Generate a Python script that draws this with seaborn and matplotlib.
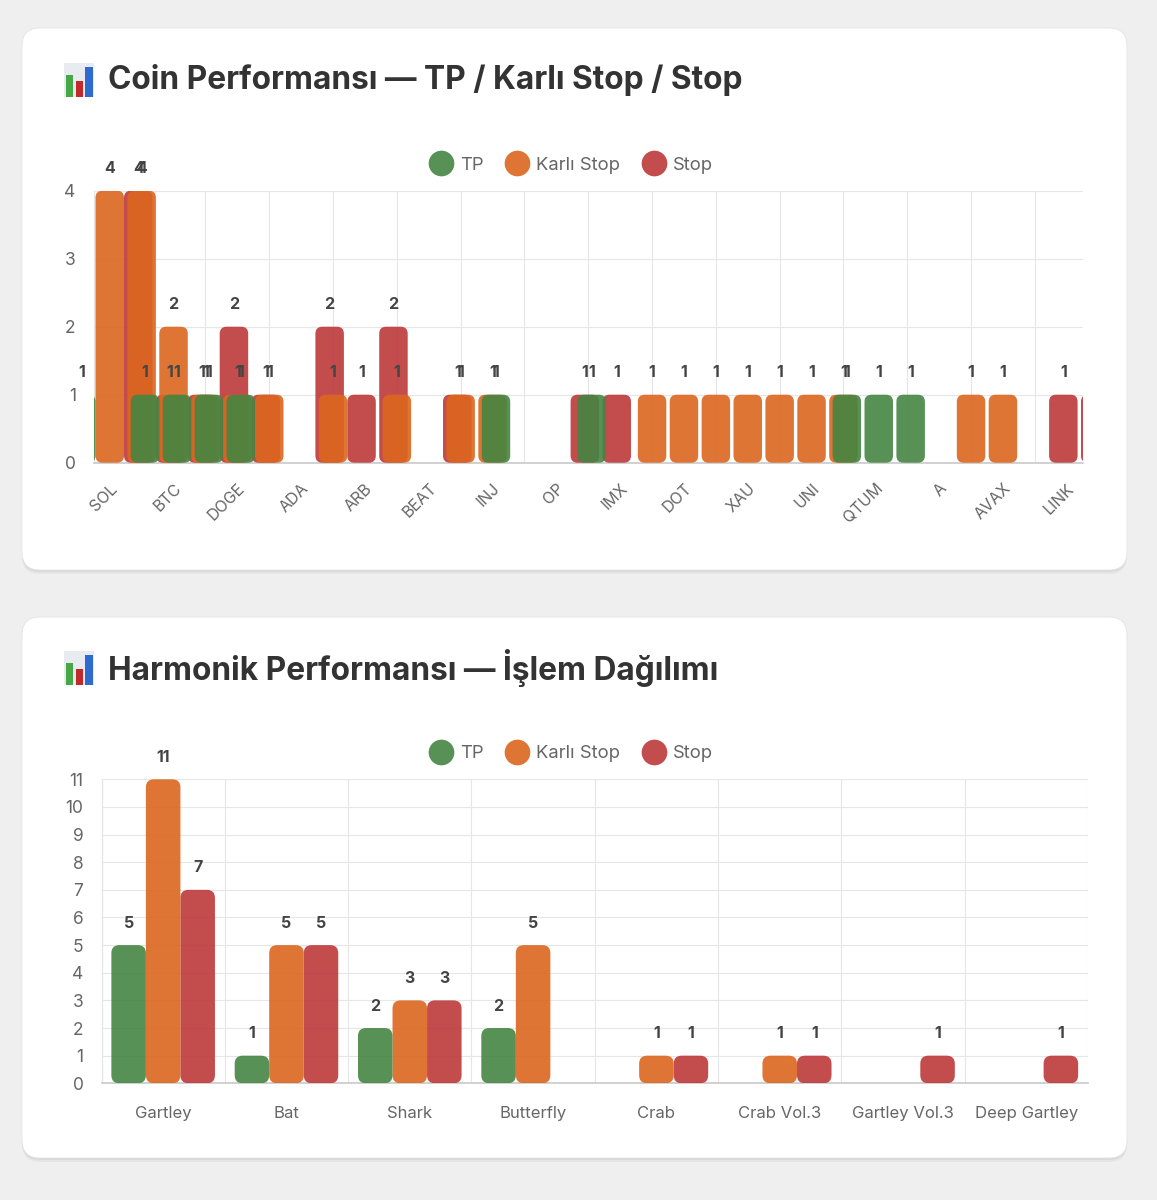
import numpy as np
import pandas as pd
import matplotlib
matplotlib.use("Agg")
import matplotlib.pyplot as plt
import seaborn as sns
from matplotlib.patches import FancyBboxPatch, Rectangle
from matplotlib.lines import Line2D
from matplotlib.colors import to_rgb
from matplotlib.ticker import MultipleLocator
from matplotlib.transforms import IdentityTransform

# ============================================================================
# DATA
# ============================================================================
RESULTS = ["TP", "Karlı Stop", "Stop"]
COLORS = {"TP": "#458542", "Karlı Stop": "#dc661f", "Stop": "#bd383a"}

# coin chart: 31 slots on the axis, only every other name gets printed
coin_names = ["SOL", "BTC", "DOGE", "ADA", "ARB", "BEAT", "INJ", "OP",
              "IMX", "DOT", "XAU", "UNI", "QTUM", "A", "AVAX", "LINK"]
coin_slots = list(range(31))
coin_tp    = [1, 0, 1, 1, 1, 1, 0, 0, 0, 0, 0, 0, 0, 1, 0, 0,
              1, 0, 0, 0, 0, 0, 0, 0, 1, 1, 1, 0, 0, 0, 0]
coin_karli = [4, 4, 2, 1, 1, 1, 0, 1, 0, 1, 0, 1, 1, 0, 0, 0,
              0, 1, 1, 1, 1, 1, 1, 1, 0, 0, 0, 1, 1, 0, 0]
coin_stop  = [4, 1, 1, 2, 1, 0, 2, 1, 2, 0, 1, 0, 0, 0, 1, 1,
              0, 0, 0, 0, 0, 0, 0, 0, 0, 0, 0, 0, 0, 1, 1]

pattern_names = ["Gartley", "Bat", "Shark", "Butterfly", "Crab",
                 "Crab Vol.3", "Gartley Vol.3", "Deep Gartley"]
pattern_tp    = [5, 1, 2, 2, 0, 0, 0, 0]
pattern_karli = [11, 5, 3, 5, 1, 1, 0, 0]
pattern_stop  = [7, 5, 3, 0, 1, 1, 1, 1]

coin_df = pd.DataFrame({
    "slot": coin_slots * 3,
    "sonuc": np.repeat(RESULTS, len(coin_slots)),
    "adet": coin_tp + coin_karli + coin_stop,
})
pattern_df = pd.DataFrame({
    "pattern": pattern_names * 3,
    "sonuc": np.repeat(RESULTS, len(pattern_names)),
    "adet": pattern_tp + pattern_karli + pattern_stop,
})

# ============================================================================
# STYLE
# ============================================================================
W, H = 1157, 1200
BG = "#efefef"
GRID = "#e6e6e6"
BASE = "#c9c9c9"
TICK_TXT = "#666666"
ALPHA = 0.9

sns.set_theme(style="white")
plt.rcParams["font.family"] = ["Inter", "DejaVu Sans"]

fig = plt.figure(figsize=(W / 100, H / 100), dpi=100, facecolor=BG)


def px_box(x0, y0, x1, y1):
    """figure fraction rect from pixel box (top-left origin)"""
    return [x0 / W, 1 - y1 / H, (x1 - x0) / W, (y1 - y0) / H]


def add_card(y0, y1):
    for off, a in [(4, 0.04), (2, 0.05)]:
        sh = FancyBboxPatch((22, H - y1 - off), 1105, y1 - y0,
                            boxstyle="round,pad=0,rounding_size=18",
                            transform=IdentityTransform(), facecolor="black",
                            alpha=a, edgecolor="none", zorder=-11)
        fig.add_artist(sh)
    card = FancyBboxPatch((22, H - y1), 1105, y1 - y0,
                          boxstyle="round,pad=0,rounding_size=18",
                          transform=IdentityTransform(), facecolor="white",
                          edgecolor="#e4e4e4", linewidth=0.6, zorder=-10)
    fig.add_artist(card)


def add_icon(x, y):
    # stand-in for the bar chart emoji
    parts = [(0, 0, 30, 34, "#e8ecf1"),
             (1.7, 12, 7.6, 22, "#45a845"),
             (12, 17.7, 7.3, 16.3, "#c3282d"),
             (21.3, 3.7, 7.4, 30.3, "#2d6bcf")]
    for dx, dy, w, h, c in parts:
        fig.add_artist(Rectangle((x + dx, H - (y + dy + h)), w, h,
                                 transform=IdentityTransform(),
                                 facecolor=c, edgecolor="none", zorder=2))


def add_title(y, text):
    add_icon(64, y - 17)
    fig.text(108 / W, 1 - y / H, text, fontsize=22.8, fontweight="bold",
             color="#333333", ha="left", va="center")


def add_legend(y):
    handles = [Line2D([], [], marker="o", ls="none", markersize=18.5,
                      markerfacecolor=COLORS[r], markeredgecolor="none",
                      alpha=ALPHA) for r in RESULTS]
    fig.legend(handles, RESULTS, loc="center", bbox_to_anchor=(571 / W, 1 - y / H),
               ncol=3, frameon=False, fontsize=13.3, labelcolor=TICK_TXT,
               handlelength=1.25, handletextpad=0.4, columnspacing=1.2)


def rounded_bars(ax, radius_px, label_limit):
    x0, x1 = ax.get_xlim()
    y0, y1 = ax.get_ylim()
    bb = ax.get_window_extent()
    ppx = bb.width / (x1 - x0)
    ppy = bb.height / (y1 - y0)
    aspect = ppx / ppy
    order = {r: 5 - i for i, r in enumerate(RESULTS)}  # first dataset on top
    for rect in list(ax.patches):
        x, w, h = rect.get_x(), rect.get_width(), rect.get_height()
        rgb = rect.get_facecolor()[:3]
        name = min(RESULTS, key=lambda r: np.sum((np.array(to_rgb(COLORS[r])) - rgb) ** 2))
        rect.remove()
        if h <= 0:
            continue
        rs = min(radius_px / ppx, w / 2, h / aspect / 2)
        ax.add_patch(FancyBboxPatch((x, 0), w, h,
                                    boxstyle=f"round,pad=0,rounding_size={rs}",
                                    mutation_aspect=aspect, facecolor=COLORS[name],
                                    alpha=ALPHA, edgecolor="none", zorder=order[name]))
        cx = x + w / 2
        if cx < label_limit:
            ax.annotate(f"{int(h)}", (cx, h), xytext=(0, 22), textcoords="offset pixels",
                        ha="center", va="center", fontsize=11.5, fontweight="bold",
                        color="#444444", zorder=10, annotation_clip=False)


def style_axes(ax, ymax):
    ax.set_facecolor("none")
    ax.set_xlabel("")
    ax.set_ylabel("")
    ax.set_ylim(0, ymax)
    for s in ["top", "right"]:
        ax.spines[s].set_visible(False)
    ax.spines["left"].set_color(GRID)
    ax.spines["left"].set_linewidth(0.9)
    ax.spines["bottom"].set_color(BASE)
    ax.spines["bottom"].set_linewidth(1.2)
    ax.yaxis.set_major_locator(MultipleLocator(1))
    ax.grid(False)
    ax.grid(axis="y", which="major", color=GRID, linewidth=0.8)
    ax.grid(axis="x", which="minor", color=GRID, linewidth=0.8)
    ax.set_axisbelow(True)
    ax.tick_params(axis="y", length=7, width=0.8, color=GRID, pad=6,
                   labelsize=12.5, labelcolor=TICK_TXT)
    ax.tick_params(axis="x", which="minor", length=7, width=0.8, color=GRID)


# ============================================================================
# CARDS + TITLES
# ============================================================================
add_card(28, 570)
add_card(617, 1158)
add_title(80, "Coin Performansı — TP / Karlı Stop / Stop")
add_title(668, "Harmonik Performansı — İşlem Dağılımı")
add_legend(165)
add_legend(754)

# ============================================================================
# TOP: coins
# ============================================================================
ax1 = fig.add_axes(px_box(93.8, 190.7, 1082.7, 462.7))
sns.barplot(data=coin_df, x="slot", y="adet", hue="sonuc", hue_order=RESULTS,
            palette=COLORS, width=2.68, dodge=True, gap=0, saturation=1,
            errorbar=None, legend=False, ax=ax1)
ax1.set_xlim(-0.5, len(coin_slots) - 0.5)
style_axes(ax1, 4)
ax1.set_xticks(range(0, len(coin_slots), 2))
ax1.set_xticklabels(coin_names, rotation=45, ha="right", rotation_mode="anchor")
ax1.set_xticks(range(1, len(coin_slots), 2), minor=True)
ax1.tick_params(axis="x", which="major", length=0, pad=13, labelsize=11.5,
                labelcolor=TICK_TXT)
rounded_bars(ax1, 7, len(coin_slots) - 0.5)

# ============================================================================
# BOTTOM: harmonic patterns
# ============================================================================
ax2 = fig.add_axes(px_box(101.5, 779.3, 1088, 1083.3))
sns.barplot(data=pattern_df, x="pattern", y="adet", hue="sonuc", hue_order=RESULTS,
            palette=COLORS, width=0.84, dodge=True, gap=0, saturation=1,
            errorbar=None, legend=False, ax=ax2)
ax2.set_xlim(-0.5, len(pattern_names) - 0.5)
style_axes(ax2, 11)
ax2.set_xticks(range(len(pattern_names)))
ax2.set_xticklabels(pattern_names)
ax2.set_xticks(np.arange(len(pattern_names) + 1) - 0.5, minor=True)
ax2.tick_params(axis="x", which="major", length=0, pad=16, labelsize=12,
                labelcolor=TICK_TXT)
rounded_bars(ax2, 8, len(pattern_names) - 0.5)

fig.savefig("out.png", dpi=100, facecolor=BG)
